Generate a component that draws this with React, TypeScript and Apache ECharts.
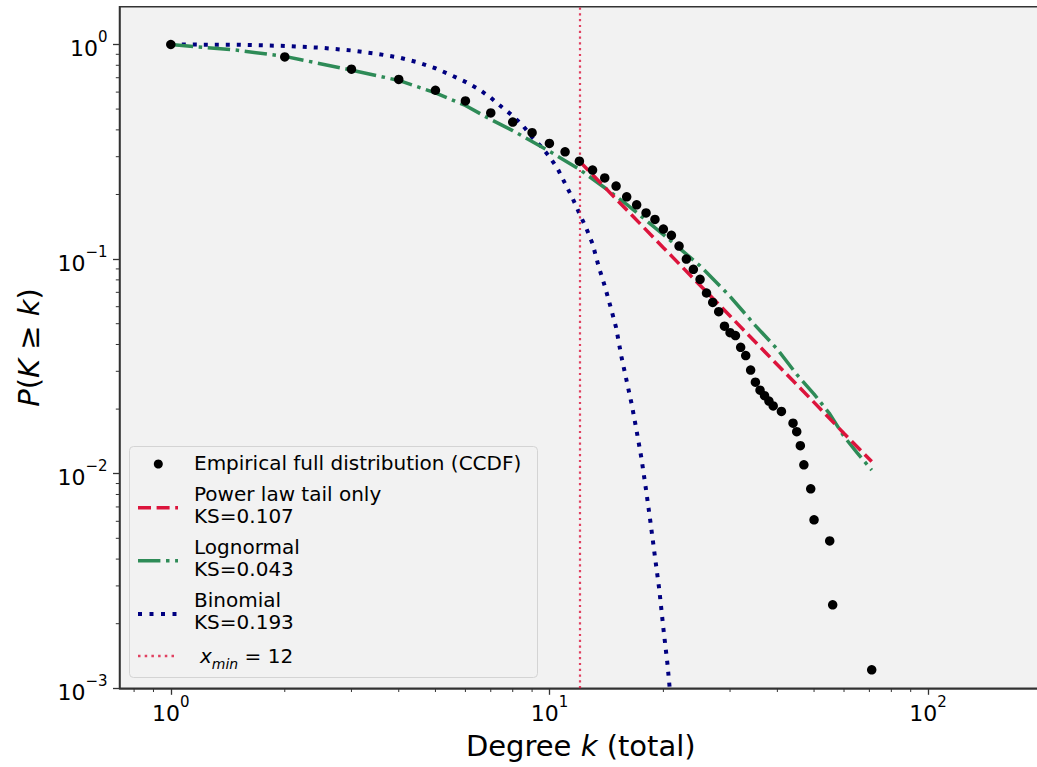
import React, { useEffect, useRef } from 'react';
import * as echarts from 'echarts';

// ---- data ----
const empiricalK = [1, 2, 3, 4, 5, 6, 7, 8, 9, 10, 11, 12, 13, 14, 15, 16, 17, 18, 19, 20, 21, 22, 23, 24, 25, 26, 27, 28, 29, 30, 31, 32, 33, 34, 35, 36, 37, 38, 39, 41, 44, 45, 46, 47, 49, 50, 55, 56, 71];
const empiricalP = [1.0, 0.875, 0.767, 0.687, 0.612, 0.546, 0.48, 0.435, 0.388, 0.346, 0.316, 0.286, 0.26, 0.239, 0.219, 0.195, 0.179, 0.164, 0.153, 0.138, 0.129, 0.115, 0.1, 0.0896, 0.0805, 0.0695, 0.0628, 0.0569, 0.0487, 0.0454, 0.044, 0.0388, 0.0355, 0.0304, 0.0267, 0.0245, 0.0231, 0.0218, 0.0207, 0.0195, 0.0172, 0.0157, 0.0135, 0.011, 0.0085, 0.0061, 0.00486, 0.00245, 0.00122];

const powerK = [12, 20, 30, 40, 50, 60, 71];
const powerP = [0.286, 0.113, 0.0543, 0.0322, 0.0215, 0.0154, 0.0114];

const lognormK = [1, 1.5, 2, 3, 4, 5, 6, 7, 8, 10, 12, 14, 16, 20, 25, 30, 35, 40, 45, 50, 55, 60, 65, 71];
const lognormP = [1.0, 0.94, 0.88, 0.76, 0.68, 0.595, 0.52, 0.447, 0.397, 0.318, 0.262, 0.215, 0.18, 0.13, 0.093, 0.067, 0.049, 0.038, 0.029, 0.0235, 0.019, 0.0149, 0.0125, 0.0104];

const binomK = [1, 1.5, 2, 2.5, 3, 3.5, 4, 4.5, 5, 5.5, 6, 6.5, 7, 7.5, 8, 8.5, 9, 9.5, 10, 10.5, 11, 11.5, 12, 12.5, 13, 13.5, 14, 14.5, 15, 15.5, 16, 16.5, 17, 17.5, 18, 18.5, 19, 19.5, 20, 20.5, 21];
const binomP = [1.0, 0.997, 0.985, 0.965, 0.938, 0.905, 0.87, 0.825, 0.775, 0.72, 0.67, 0.62, 0.565, 0.51, 0.465, 0.42, 0.37, 0.335, 0.3, 0.265, 0.225, 0.193, 0.163, 0.14, 0.118, 0.092, 0.075, 0.06, 0.048, 0.035, 0.027, 0.021, 0.0158, 0.0118, 0.0084, 0.0059, 0.0041, 0.0029, 0.0019, 0.0013, 0.00082];

const xminValue = 12;

// axis limits and minor tick positions (log axes)
const X_MIN = 0.732;
const X_MAX = 200;
const Y_MIN = 0.001;
const Y_MAX = 1.5;
const xMinorTicks = [0.8, 0.9, 2, 3, 4, 5, 6, 7, 8, 9, 20, 30, 40, 50, 60, 70, 80, 90];
const yMinorTicks = [0.002, 0.003, 0.004, 0.005, 0.006, 0.007, 0.008, 0.009, 0.02, 0.03, 0.04, 0.05, 0.06, 0.07, 0.08, 0.09, 0.2, 0.3, 0.4, 0.5, 0.6, 0.7, 0.8, 0.9];

const legendLabels = [
  'Empirical full distribution (CCDF)',
  'Power law tail only\nKS=0.107',
  'Lognormal\nKS=0.043',
  'Binomial\nKS=0.193',
];

const FONT = 'DejaVu Sans';
const RED = '#DC143C';
const GREEN = '#2E8B57';
const NAVY = '#000080';
const SPINE = '#333';

const zip = (xs: number[], ys: number[]) => xs.map((x, i) => [x, ys[i]]);

const powFormatter = (v: number) => {
  const e = Math.log10(v);
  const r = Math.round(e);
  if (Math.abs(e - r) > 1e-6) return '';
  const exp = r < 0 ? '\u2212' + String(-r) : String(r);
  return '{b|10}{s|' + exp + '}';
};

const tickRich = {
  b: { fontSize: 22, lineHeight: 30, verticalAlign: 'bottom', fontFamily: FONT, color: '#000' },
  s: { fontSize: 15, lineHeight: 15, verticalAlign: 'top', fontFamily: FONT, color: '#000' },
};

export default function App() {
  const ref = useRef<HTMLDivElement>(null);
  useEffect(() => {
    if (!ref.current) return;
    const chart = echarts.init(ref.current, null, { renderer: 'svg' });
    const axisCommon = {
      axisLine: { show: true, lineStyle: { color: SPINE, width: 1.5 } },
      axisTick: { show: true, inside: false, length: 6.5, lineStyle: { color: SPINE, width: 1.3 } },
      splitLine: { show: false },
    };
    const option: any = {
      animation: false,
      backgroundColor: '#ffffff',
      textStyle: { fontFamily: FONT },
      grid: {
        left: 119.5, top: 6.7, right: -5, bottom: 78.7,
        show: true, backgroundColor: '#f2f2f2', borderColor: SPINE, borderWidth: 1.5,
        containLabel: false, outerBoundsMode: 'none',
      },
      xAxis: {
        type: 'log', logBase: 10, min: X_MIN, max: X_MAX,
        ...axisCommon,
        axisLabel: { formatter: powFormatter, rich: tickRich, margin: 6, showMinLabel: false, showMaxLabel: false },
        name: 'Degree {i|k} (total)',
        nameLocation: 'middle', nameGap: 43,
        nameTextStyle: {
          fontSize: 29, fontFamily: FONT, color: '#000',
          rich: { i: { fontSize: 29, fontStyle: 'italic', fontFamily: FONT, color: '#000' } },
        },
      },
      yAxis: {
        type: 'log', logBase: 10, min: Y_MIN, max: Y_MAX,
        ...axisCommon,
        axisLabel: { formatter: powFormatter, rich: tickRich, margin: 12, showMinLabel: true, showMaxLabel: false },
        name: '{i|P}({i|K} \u2265 {i|k})',
        nameLocation: 'middle', nameGap: 76, nameRotate: 90,
        nameTextStyle: {
          fontSize: 29, fontFamily: FONT, color: '#000',
          rich: { i: { fontSize: 29, fontStyle: 'italic', fontFamily: FONT, color: '#000' } },
        },
      },
      series: [
        {
          type: 'custom', name: 'xMinor', silent: true, clip: false,
          data: xMinorTicks.map((v) => [v, Y_MIN]),
          renderItem: (params: any, api: any) => {
            const p = api.coord([api.value(0), api.value(1)]);
            return { type: 'line', shape: { x1: p[0], y1: p[1], x2: p[0], y2: p[1] + 3.7 }, style: { stroke: SPINE, lineWidth: 1 } };
          },
          z: 1,
        },
        {
          type: 'custom', name: 'yMinor', silent: true, clip: false,
          data: yMinorTicks.map((v) => [X_MIN, v]),
          renderItem: (params: any, api: any) => {
            const p = api.coord([api.value(0), api.value(1)]);
            return { type: 'line', shape: { x1: p[0], y1: p[1], x2: p[0] - 3.7, y2: p[1] }, style: { stroke: SPINE, lineWidth: 1 } };
          },
          z: 1,
        },
        {
          type: 'line', name: 'binomial', data: zip(binomK, binomP), showSymbol: false, symbol: 'none',
          lineStyle: { color: NAVY, width: 4, type: [4, 7], cap: 'butt' }, z: 2, clip: true,
        },
        {
          type: 'line', name: 'lognormal', data: zip(lognormK, lognormP), showSymbol: false, symbol: 'none',
          lineStyle: { color: GREEN, width: 3.5, type: [22.4, 5.6, 3.5, 5.6] }, z: 3, clip: true,
        },
        {
          type: 'line', name: 'power', data: zip(powerK, powerP), showSymbol: false, symbol: 'none',
          lineStyle: { color: RED, width: 3.5, type: [13, 5.6] }, z: 4, clip: true,
          markLine: {
            silent: true, symbol: 'none', label: { show: false },
            lineStyle: { color: 'rgba(220,20,60,0.8)', width: 2.2, type: [2.2, 3.6] },
            data: [{ xAxis: xminValue }],
          },
        },
        {
          type: 'scatter', name: 'empirical', data: zip(empiricalK, empiricalP), symbol: 'circle', symbolSize: 9.5,
          itemStyle: { color: '#000', opacity: 1 }, z: 5,
        },
      ],
      graphic: [
        {
          type: 'group', z: 100,
          children: [
            { type: 'rect', shape: { x: 129.5, y: 446.5, width: 408, height: 231, r: 4 }, style: { fill: 'rgba(242,242,242,0.85)', stroke: '#d4d4d4', lineWidth: 1 } },
            { type: 'circle', shape: { cx: 158.3, cy: 464, r: 4.5 }, style: { fill: '#000' } },
            { type: 'text', x: 194, y: 463, style: { text: legendLabels[0], fontSize: 20, fontFamily: FONT, fill: '#000', verticalAlign: 'middle' } },
            { type: 'line', shape: { x1: 138, y1: 507.7, x2: 178, y2: 507.7 }, style: { stroke: RED, lineWidth: 3.5, lineDash: [13, 5.6] } },
            { type: 'text', x: 194, y: 504.5, style: { text: legendLabels[1], fontSize: 20, lineHeight: 22, fontFamily: FONT, fill: '#000', verticalAlign: 'middle' } },
            { type: 'line', shape: { x1: 138, y1: 560.7, x2: 178, y2: 560.7 }, style: { stroke: GREEN, lineWidth: 3.5, lineDash: [22.4, 5.6, 3.5, 5.6] } },
            { type: 'text', x: 194, y: 557.5, style: { text: legendLabels[2], fontSize: 20, lineHeight: 22, fontFamily: FONT, fill: '#000', verticalAlign: 'middle' } },
            { type: 'line', shape: { x1: 138, y1: 614, x2: 178, y2: 614 }, style: { stroke: NAVY, lineWidth: 4, lineDash: [4, 7.5] } },
            { type: 'text', x: 194, y: 611, style: { text: legendLabels[3], fontSize: 20, lineHeight: 22, fontFamily: FONT, fill: '#000', verticalAlign: 'middle' } },
            { type: 'line', shape: { x1: 138, y1: 656, x2: 178, y2: 656 }, style: { stroke: 'rgba(220,20,60,0.8)', lineWidth: 2.5, lineDash: [2.5, 4.2] } },
            {
              type: 'text', x: 200, y: 656,
              style: {
                text: '{i|x}{s|min}{n| = 12}', verticalAlign: 'middle', fill: '#000',
                rich: {
                  i: { fontSize: 20, fontStyle: 'italic', fontFamily: FONT, lineHeight: 30, verticalAlign: 'middle' },
                  s: { fontSize: 14, fontStyle: 'italic', fontFamily: FONT, lineHeight: 14, verticalAlign: 'bottom' },
                  n: { fontSize: 20, fontFamily: FONT, lineHeight: 30, verticalAlign: 'middle' },
                },
              },
            },
          ],
        },
      ],
    };
    chart.setOption(option);
    return () => chart.dispose();
  }, []);
  return <div ref={ref} style={{ position: 'absolute', left: 0, top: 0, width: 1037, height: 767 }} />;
}
